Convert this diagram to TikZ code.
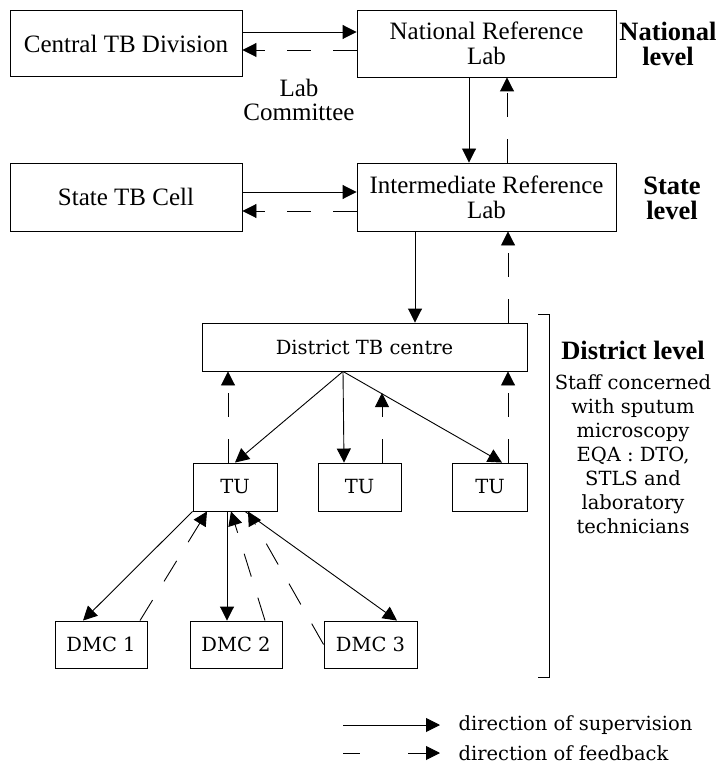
\documentclass[tikz,border=0pt]{standalone}
\usepackage{fontspec}
\setmainfont{DejaVu Serif}
\newfontfamily\topfont{Liberation Serif}
\usetikzlibrary{arrows.meta,calc}
\begin{document}
\begin{tikzpicture}[x=1pt,y=-1pt,
  box/.style={draw,line width=0.9pt,inner sep=0pt,align=center},
  topbox/.style={box,font=\topfont\fontsize{25}{25}\selectfont},
  lowbox/.style={box,font=\fontsize{19.5}{24}\selectfont},
  sup/.style={line width=0.9pt,-{Triangle[length=14pt,width=14pt]}},
  fb/.style={sup,dash pattern=on 24pt off 22pt},
  lvl/.style={font=\topfont\bfseries\fontsize{26.5}{25}\selectfont,align=center},
  toptext/.style={font=\topfont\fontsize{25}{24}\selectfont,align=center},
  lowtext/.style={font=\fontsize{19.5}{24}\selectfont,align=center}]
\useasboundingbox (0,0) rectangle (720,767);

% boxes
\node[topbox,minimum width=232pt,minimum height=66pt] (cen) at (126,43.5) {Central TB Division};
\node[topbox,minimum width=259pt,minimum height=67pt] (nrl) at (486.5,43.5) {National Reference\\Lab};
\node[topbox,minimum width=232pt,minimum height=68pt] (stc) at (126,197) {State TB Cell};
\node[topbox,minimum width=259pt,minimum height=68pt] (irl) at (486.5,197) {Intermediate Reference\\Lab};
\node[lowbox,minimum width=325pt,minimum height=48pt] (dtc) at (364.5,347) {District TB centre};
\node[lowbox,minimum width=84pt,minimum height=48pt] (tu1) at (235,487) {TU};
\node[lowbox,minimum width=83pt,minimum height=48pt] (tu2) at (359.5,487) {TU};
\node[lowbox,minimum width=75pt,minimum height=48pt] (tu3) at (490,487) {TU};
\node[lowbox,minimum width=92pt,minimum height=47pt] (dmc1) at (101,644.5) {DMC 1};
\node[lowbox,minimum width=92pt,minimum height=47pt] (dmc2) at (236,644.5) {DMC 2};
\node[lowbox,minimum width=93pt,minimum height=47pt] (dmc3) at (370.5,644.5) {DMC 3};

% labels
\node[toptext] (labc) at (299,100) {Lab\\Committee};
\node[lvl] (natl) at (668,44) {National\\level};
\node[lvl] (statel) at (672,198) {State\\level};
\node[lvl] (distl) at (633,350) {District level};
\node[lowtext] (staff) at (633,454.5) {Staff concerned\\with sputum\\microscopy\\EQA : DTO,\\STLS and\\laboratory\\technicians};

% bracket
\draw[line width=0.9pt] (538,314) -- (549,314) -- (549,677) -- (538,677);

% national / state
\draw[sup] ($(cen.east)+(0,-11.5)$) -- ($(nrl.west)+(0,-11.5)$);
\draw[fb] ($(nrl.west)+(0,6.5)$) -- ($(cen.east)+(0,6.5)$);
\draw[sup] ($(nrl.south)+(-17.5,0)$) -- ($(irl.north)+(-17.5,0)$);
\draw[fb] ($(irl.north)+(20.5,0)$) -- ($(nrl.south)+(20.5,0)$);
\draw[sup] ($(stc.east)+(0,-5)$) -- ($(irl.west)+(0,-5)$);
\draw[fb] ($(irl.west)+(0,14)$) -- ($(stc.east)+(0,14)$);
\draw[sup] ($(irl.south)+(-71.5,0)$) -- ($(dtc.north)+(50.5,0)$);
\draw[fb] ($(dtc.north)+(143.5,0)$) -- ($(irl.south)+(21.5,0)$);

% district
\coordinate (dtcs) at ($(dtc.south)+(-21.5,0)$);
\draw[sup] (dtcs) -- (tu1.north);
\draw[sup] (dtcs) -- ($(tu2.north)+(-15.5,0)$);
\draw[sup] (dtcs) -- ($(tu3.north)+(12,0)$);
\draw[fb] ($(tu1.north)+(-7,0)$) -- ($(dtc.south)+(-136.5,0)$);
\coordinate (tu2fb) at (382,393);
\draw[fb] ($(tu2.north)+(22.5,0)$) -- (tu2fb);
\draw[fb] ($(tu3.north)+(18,0)$) -- ($(dtc.south)+(143.5,0)$);

% DMC
\draw[sup] (tu1.south west) -- ($(dmc1.north)+(-18,0)$);
\draw[sup] ($(tu1.south)+(-8,0)$) -- ($(dmc2.north)+(-9,0)$);
\draw[sup] ($(tu1.south)+(10,0)$) -- ($(dmc3.north)+(26.5,0)$);
\draw[fb] ($(dmc1.north)+(39,0)$) -- ($(tu1.south)+(-28,0)$);
\draw[fb] ($(dmc2.north)+(29,0)$) -- ($(tu1.south)+(-4,0)$);
\draw[fb] (dmc3.west) -- ($(tu1.south)+(13,0)$);

% legend
\coordinate (ls1) at (343,725);
\coordinate (ls2) at (440,725);
\coordinate (lf1) at (343,753);
\coordinate (lf2) at (360,753);
\coordinate (lf3) at (408,753);
\coordinate (lf4) at (440,753);
\draw[sup] (ls1) -- (ls2);
\draw[line width=0.9pt] (lf1) -- (lf2);
\draw[sup] (lf3) -- (lf4);
\node[lowtext,anchor=west] (lgs) at (455,725) {direction of supervision};
\node[lowtext,anchor=west] (lgf) at (455,753) {direction of feedback};
\end{tikzpicture}
\end{document}
